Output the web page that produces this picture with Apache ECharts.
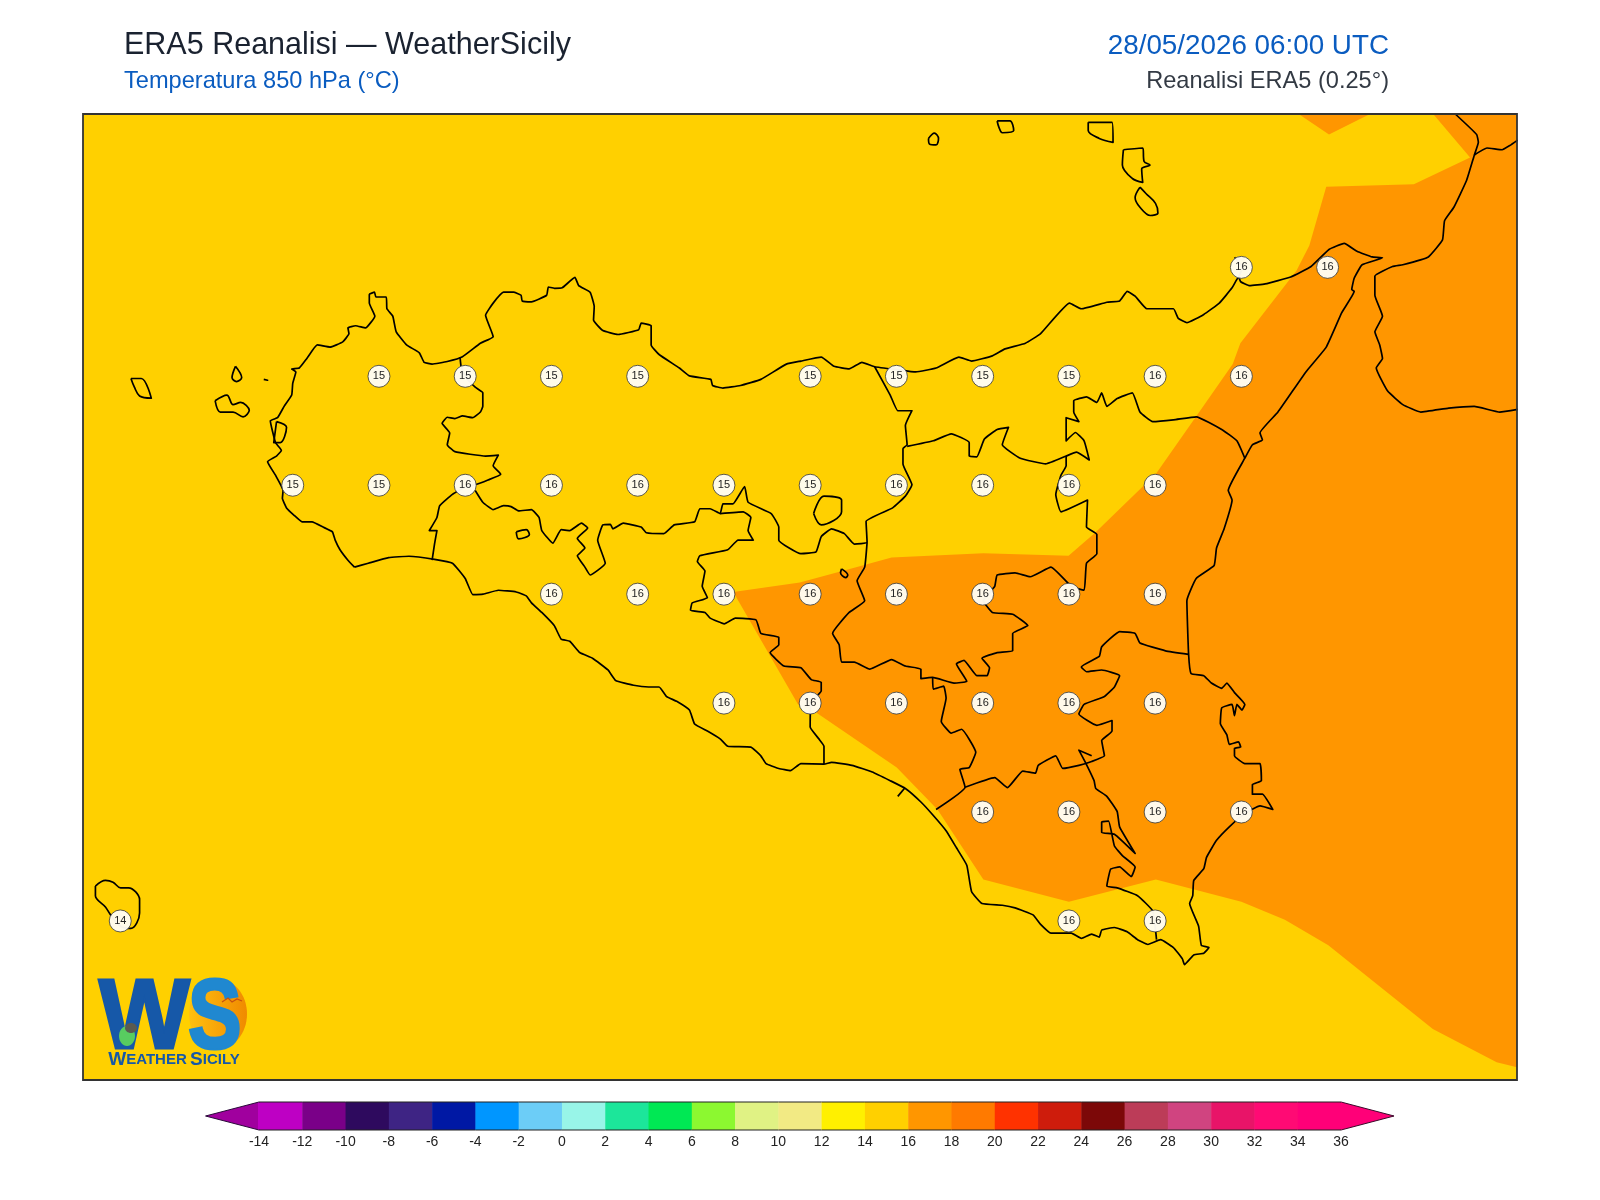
<!DOCTYPE html>
<html>
<head>
    <meta charset="utf-8">
    <title>ERA5 Reanalisi - WeatherSicily</title>
    <script src="https://cdn.jsdelivr.net/npm/echarts@6/dist/echarts.min.js"></script>
    <style>html, body { margin: 0; background: #fff; }</style>
</head>
<body>
    <div id="main" style="width: 1600px; height: 1200px;"></div>

    <script>
        // valori griglia (lon, lat, temperatura a 850 hPa)
        var labelLons = [15.25, 15.5,
            12.75, 13, 13.25, 13.5, 14, 14.25, 14.5, 14.75, 15, 15.25,
            12.5, 12.75, 13, 13.25, 13.5, 13.75, 14, 14.25, 14.5, 14.75, 15,
            13.25, 13.5, 13.75, 14, 14.25, 14.5, 14.75, 15,
            13.75, 14, 14.25, 14.5, 14.75, 15,
            14.5, 14.75, 15, 15.25,
            12, 14.75, 15];
        var labelLats = [38.25, 38.25,
            38, 38, 38, 38, 38, 38, 38, 38, 38, 38,
            37.75, 37.75, 37.75, 37.75, 37.75, 37.75, 37.75, 37.75, 37.75, 37.75, 37.75,
            37.5, 37.5, 37.5, 37.5, 37.5, 37.5, 37.5, 37.5,
            37.25, 37.25, 37.25, 37.25, 37.25, 37.25,
            37, 37, 37, 37,
            36.75, 36.75, 36.75];
        var labelVals = [16, 16,
            15, 15, 15, 15, 15, 15, 15, 15, 16, 16,
            15, 15, 16, 16, 16, 15, 15, 16, 16, 16, 16,
            16, 16, 16, 16, 16, 16, 16, 16,
            16, 16, 16, 16, 16, 16,
            16, 16, 16, 16,
            14, 16, 16];

        // estensione della mappa
        var lonMin = 11.892, lonMax = 16.049, latMin = 36.385, latMax = 38.602;

        // scala colori
        var bandEdges = [-14, -12, -10, -8, -6, -4, -2, 0, 2, 4, 6, 8, 10, 12, 14, 16, 18, 20, 22, 24, 26, 28, 30, 32, 34, 36];
        var bandColors = ['#BE00C4', '#7A0088', '#2E0A5E', '#3E2484', '#0018A4', '#0096FF', '#6CCDF7', '#98F5E8',
            '#1CE69A', '#00E854', '#8CF830', '#E0F284', '#F2EA84', '#FFF000', '#FFD000', '#FF9600', '#FF7A00',
            '#FF3200', '#CE1C0C', '#7C0808', '#BC3C58', '#D04480', '#E81468', '#FF0A74', '#FF0078'];

        // area 16-18 gradi
        var orangeMain = [[15.806,38.602],[15.913,38.502],[15.75,38.441],[15.496,38.435],[15.447,38.3],[15.41,38.243],[15.247,38.076],[15.225,38.028],[15.136,37.927],[15.003,37.777],[14.826,37.641],[14.749,37.588],[14.502,37.594],[14.236,37.584],[14.133,37.562],[13.97,37.527],[13.777,37.505],[13.965,37.247],[14.014,37.23],[14.251,37.102],[14.369,37.006],[14.502,36.845],[14.75,36.794],[15.002,36.845],[15.25,36.794],[15.376,36.753],[15.502,36.694],[15.805,36.502],[15.99,36.426],[16.051,36.414],[16.051,38.602]];
        var orangeTop = [[15.416,38.602],[15.504,38.555],[15.623,38.602]];

        // coste e confini
        var coastSicily = [[12.679,37.562],[12.66,37.578],[12.637,37.602],[12.623,37.624],[12.615,37.643],[12.588,37.654],[12.556,37.666],[12.527,37.666],[12.504,37.681],[12.482,37.698],[12.47,37.72],[12.472,37.738],[12.45,37.773],[12.427,37.804],[12.453,37.817],[12.467,37.83],[12.45,37.848],[12.435,37.898],[12.456,37.905],[12.475,37.931],[12.497,37.957],[12.5,37.984],[12.509,38.01],[12.497,38.017],[12.519,38.019],[12.541,38.041],[12.571,38.072],[12.608,38.067],[12.645,38.079],[12.663,38.098],[12.66,38.111],[12.682,38.116],[12.711,38.111],[12.738,38.138],[12.722,38.168],[12.722,38.188],[12.737,38.193],[12.741,38.182],[12.771,38.182],[12.773,38.155],[12.79,38.138],[12.8,38.102],[12.83,38.072],[12.867,38.054],[12.881,38.032],[12.904,38.028],[12.948,38.034],[12.992,38.045],[13.044,38.076],[13.081,38.091],[13.059,38.14],[13.081,38.168],[13.111,38.193],[13.14,38.193],[13.162,38.186],[13.165,38.173],[13.192,38.171],[13.236,38.186],[13.241,38.205],[13.259,38.202],[13.281,38.203],[13.318,38.227],[13.329,38.208],[13.362,38.193],[13.374,38.16],[13.372,38.129],[13.399,38.105],[13.443,38.096],[13.503,38.107],[13.51,38.122],[13.539,38.116],[13.539,38.072],[13.562,38.05],[13.621,38.019],[13.65,38.001],[13.712,37.993],[13.717,37.979],[13.747,37.973],[13.798,37.979],[13.857,37.993],[13.931,38.028],[13.973,38.035],[14.032,38.044],[14.069,38.023],[14.113,38.017],[14.15,38.032],[14.187,38.022],[14.254,38.015],[14.306,38.01],[14.365,38.019],[14.431,38.044],[14.468,38.035],[14.528,38.047],[14.565,38.063],[14.624,38.076],[14.668,38.098],[14.752,38.168],[14.786,38.155],[14.86,38.17],[14.897,38.173],[14.919,38.195],[14.942,38.184],[14.976,38.155],[15.053,38.155],[15.067,38.133],[15.092,38.123],[15.141,38.142],[15.186,38.168],[15.223,38.203],[15.242,38.228],[15.248,38.217],[15.274,38.208],[15.319,38.212],[15.393,38.228],[15.452,38.252],[15.504,38.291],[15.548,38.305],[15.585,38.287],[15.629,38.274],[15.659,38.272],[15.6,38.256],[15.577,38.225],[15.57,38.199],[15.577,38.195],[15.541,38.146],[15.496,38.067],[15.437,38.01],[15.356,37.918],[15.304,37.87],[15.311,37.854],[15.282,37.843],[15.26,37.812],[15.212,37.738],[15.223,37.716],[15.2,37.65],[15.178,37.606],[15.171,37.566],[15.119,37.536],[15.092,37.485],[15.097,37.362],[15.104,37.318],[15.141,37.313],[15.163,37.296],[15.193,37.284],[15.208,37.296],[15.23,37.274],[15.26,37.247],[15.252,37.234],[15.237,37.247],[15.23,37.221],[15.223,37.247],[15.193,37.239],[15.189,37.203],[15.208,37.177],[15.215,37.155],[15.242,37.161],[15.248,37.149],[15.23,37.146],[15.23,37.129],[15.26,37.111],[15.304,37.111],[15.308,37.072],[15.282,37.063],[15.282,37.041],[15.311,37.041],[15.341,37.006],[15.304,37.014],[15.26,36.997],[15.215,36.966],[15.178,36.935],[15.149,36.896],[15.141,36.87],[15.112,36.843],[15.109,36.808],[15.1,36.79],[15.126,36.738],[15.134,36.694],[15.156,36.689],[15.141,36.676],[15.112,36.672],[15.085,36.65],[15.079,36.663],[15.053,36.689],[15.016,36.707],[14.979,36.696],[14.949,36.707],[14.919,36.725],[14.882,36.735],[14.845,36.729],[14.838,36.713],[14.816,36.72],[14.786,36.71],[14.757,36.722],[14.698,36.722],[14.668,36.742],[14.646,36.764],[14.594,36.78],[14.557,36.786],[14.498,36.79],[14.468,36.817],[14.454,36.878],[14.424,36.918],[14.394,36.957],[14.357,36.992],[14.321,37.023],[14.276,37.054],[14.232,37.072],[14.18,37.092],[14.121,37.107],[14.062,37.114],[14.04,37.11],[13.973,37.111],[13.943,37.095],[13.909,37.1],[13.872,37.111],[13.857,37.129],[13.828,37.149],[13.761,37.151],[13.739,37.168],[13.702,37.186],[13.665,37.202],[13.65,37.234],[13.613,37.254],[13.584,37.265],[13.562,37.287],[13.532,37.287],[13.488,37.291],[13.436,37.302],[13.414,37.326],[13.369,37.353],[13.332,37.366],[13.303,37.392],[13.278,37.397],[13.258,37.428],[13.222,37.458],[13.192,37.48],[13.177,37.496],[13.148,37.505],[13.096,37.509],[13.052,37.5],[13.022,37.499],[13,37.536],[12.963,37.571],[12.911,37.58],[12.837,37.587],[12.778,37.584],[12.719,37.571],[12.679,37.562]];
        var capoMilazzo = [[15.242,38.228],[15.254,38.25],[15.23,38.273]];
        var borderTrapani = [[12.985,38.044],[12.988,38.023],[13.003,37.997],[13.029,37.975],[13.051,37.962],[13.051,37.931],[13.044,37.918],[13.022,37.905],[12.992,37.909],[12.97,37.903],[12.948,37.906],[12.933,37.892],[12.955,37.87],[12.948,37.843],[12.97,37.827],[13.059,37.817],[13.096,37.819],[13.081,37.795],[13.103,37.775],[13.066,37.762],[13.029,37.751],[13.003,37.747],[12.963,37.729],[12.926,37.703],[12.918,37.676],[12.896,37.646],[12.918,37.646],[12.911,37.615],[12.904,37.578]];
        var borderPalermoSouth = [[13.029,37.738],[13.051,37.711],[13.081,37.694],[13.111,37.703],[13.133,37.701],[13.155,37.691],[13.192,37.694],[13.214,37.676],[13.222,37.646],[13.254,37.617],[13.278,37.648],[13.303,37.646],[13.337,37.663],[13.355,37.652],[13.325,37.628],[13.347,37.606],[13.325,37.588],[13.347,37.562],[13.362,37.544],[13.406,37.571],[13.384,37.624],[13.399,37.659],[13.421,37.66],[13.428,37.65],[13.458,37.663],[13.51,37.654],[13.525,37.641],[13.576,37.639],[13.606,37.659],[13.665,37.666],[13.68,37.696],[13.71,37.696],[13.739,37.685],[13.747,37.707],[13.776,37.707],[13.81,37.747],[13.82,37.711],[13.887,37.685],[13.909,37.654],[13.909,37.624],[13.973,37.593],[14.017,37.597],[14.032,37.632],[14.062,37.65],[14.099,37.639],[14.128,37.615],[14.165,37.619],[14.162,37.667],[14.239,37.698],[14.276,37.725],[14.295,37.751],[14.269,37.799],[14.269,37.834],[14.281,37.843],[14.276,37.887],[14.295,37.921],[14.254,37.921],[14.232,37.957],[14.187,38.022]];
        var borderAgrigento = [[13.739,37.685],[13.806,37.689],[13.828,37.676],[13.82,37.646],[13.835,37.624],[13.791,37.624],[13.761,37.602],[13.68,37.588],[13.673,37.575],[13.695,37.553],[13.687,37.518],[13.702,37.492],[13.658,37.48],[13.653,37.463],[13.695,37.458],[13.71,37.445],[13.751,37.432],[13.783,37.445],[13.843,37.441],[13.857,37.41],[13.909,37.401],[13.909,37.384],[13.884,37.366],[13.924,37.335],[13.973,37.331],[14.003,37.304],[14.032,37.298],[14.032,37.278],[14.003,37.252],[14,37.195],[14.025,37.168],[14.04,37.151],[14.04,37.11]];
        var borderMessina = [[15.26,37.812],[15.237,37.852],[15.193,37.878],[15.119,37.907],[15.053,37.9],[14.993,37.896],[14.956,37.918],[14.934,37.962],[14.89,37.949],[14.86,37.931],[14.845,37.962],[14.831,37.94],[14.801,37.953],[14.764,37.944],[14.764,37.918],[14.779,37.896],[14.742,37.905],[14.742,37.852],[14.769,37.871],[14.794,37.852],[14.809,37.808],[14.772,37.826],[14.742,37.817],[14.683,37.799],[14.609,37.812],[14.557,37.843],[14.575,37.883],[14.542,37.878],[14.505,37.856],[14.483,37.815],[14.461,37.817],[14.461,37.848],[14.409,37.868],[14.357,37.852],[14.281,37.839]];
        var borderEnna = [[14.742,37.817],[14.742,37.795],[14.727,37.773],[14.712,37.729],[14.727,37.689],[14.804,37.716],[14.801,37.654],[14.831,37.637],[14.831,37.593],[14.801,37.571],[14.794,37.509],[14.757,37.518],[14.698,37.562],[14.638,37.54],[14.594,37.549],[14.542,37.544],[14.535,37.518],[14.502,37.485],[14.528,37.458],[14.587,37.454],[14.631,37.428],[14.587,37.41],[14.587,37.37],[14.542,37.366],[14.498,37.353],[14.52,37.331],[14.513,37.313],[14.483,37.313],[14.446,37.348],[14.424,37.34],[14.454,37.3],[14.417,37.296],[14.355,37.309],[14.321,37.306],[14.321,37.328],[14.276,37.335],[14.236,37.35],[14.173,37.328],[14.128,37.344],[14.091,37.344],[14.084,37.384],[14.065,37.41],[14.113,37.458],[14.158,37.485],[14.136,37.531],[14.158,37.562],[14.165,37.619]];
        var borderCaltanissetta = [[14.355,37.309],[14.357,37.282],[14.387,37.289],[14.394,37.261],[14.38,37.208],[14.409,37.181],[14.439,37.19],[14.48,37.137],[14.461,37.102],[14.434,37.098],[14.449,37.057],[14.365,37.006]];
        var borderCatania = [[14.449,37.057],[14.535,37.079],[14.572,37.056],[14.616,37.094],[14.653,37.089],[14.661,37.107],[14.712,37.129],[14.732,37.1],[14.779,37.107],[14.816,37.116],[14.853,37.129],[14.845,37.164],[14.875,37.186],[14.875,37.21],[14.831,37.199],[14.779,37.225],[14.794,37.247],[14.853,37.265],[14.882,37.287],[14.897,37.313],[14.845,37.326],[14.801,37.322],[14.786,37.333],[14.838,37.357],[14.845,37.379],[14.897,37.414],[14.942,37.41],[14.956,37.388],[15.03,37.37],[15.097,37.362]];
        var borderRagusa = [[14.816,37.129],[14.779,37.142],[14.801,37.109],[14.823,37.072],[14.828,37.054],[14.86,37.036],[14.89,37.001],[14.897,36.966],[14.942,36.905],[14.882,36.949],[14.845,36.953],[14.845,36.977],[14.865,36.979],[14.882,36.922],[14.905,36.9],[14.942,36.874],[14.931,36.852],[14.897,36.874],[14.871,36.869],[14.86,36.83],[14.89,36.826],[14.949,36.808],[14.993,36.773],[15.004,36.707]];
        var tickGela = [[14.273,37.054],[14.254,37.036]];
        var coastCalabria = [[15.87,38.602],[15.932,38.555],[15.937,38.537],[15.925,38.507],[15.903,38.45],[15.866,38.388],[15.839,38.357],[15.833,38.313],[15.792,38.274],[15.718,38.256],[15.688,38.252],[15.637,38.23],[15.637,38.186],[15.659,38.138],[15.637,38.102],[15.651,38.072],[15.659,38.041],[15.641,38.019],[15.674,37.966],[15.718,37.935],[15.77,37.918],[15.851,37.927],[15.925,37.931],[15.999,37.918],[16.051,37.924]];
        var borderCalabria = [[15.925,38.508],[15.962,38.524],[16.006,38.52],[16.029,38.53],[16.051,38.542]];

        // isole ed enclavi (anelli chiusi)
        var islandUstica = [[14.343,38.546],[14.36,38.558],[14.372,38.546],[14.365,38.531],[14.346,38.533]];
        var islandAlicudi = [[14.542,38.586],[14.579,38.586],[14.59,38.564],[14.557,38.559],[14.547,38.572]];
        var islandFilicudi = [[14.806,38.583],[14.875,38.583],[14.878,38.537],[14.838,38.546],[14.806,38.564]];
        var islandLipari = [[14.908,38.52],[14.964,38.524],[14.968,38.493],[14.985,38.485],[14.961,38.476],[14.964,38.445],[14.934,38.454],[14.905,38.485]];
        var islandVulcano = [[14.956,38.434],[14.974,38.419],[15.001,38.397],[15.008,38.375],[14.986,38.369],[14.956,38.388],[14.942,38.41]];
        var islandMarettimo = [[12.031,37.995],[12.061,37.995],[12.09,37.95],[12.056,37.955],[12.041,37.975]];
        var islandFavignana = [[12.275,37.944],[12.309,37.957],[12.327,37.935],[12.349,37.94],[12.374,37.922],[12.356,37.907],[12.327,37.918],[12.29,37.918]];
        var islandLevanzo = [[12.334,38.023],[12.352,37.997],[12.337,37.988],[12.324,37.997]];
        var islandFormica = [[12.416,37.993],[12.427,37.991]];
        var islandStagnone = [[12.453,37.896],[12.482,37.883],[12.464,37.848],[12.445,37.848]];
        var islandPantelleria = [[11.928,36.83],[11.957,36.843],[11.979,36.839],[12.001,36.826],[12.024,36.826],[12.056,36.799],[12.056,36.768],[12.031,36.733],[12.001,36.738],[11.972,36.764],[11.957,36.782],[11.928,36.808]];
        var enclaveA = [[14.01,37.685],[14.04,37.725],[14.091,37.716],[14.091,37.689],[14.032,37.659]];
        var enclaveB = [[14.091,37.558],[14.109,37.544],[14.103,37.538],[14.088,37.549]];
        var enclaveC = [[13.148,37.643],[13.177,37.648],[13.186,37.637],[13.155,37.627]];

        var openPaths = [coastSicily, capoMilazzo, borderTrapani, borderPalermoSouth, borderAgrigento, borderMessina,
            borderEnna, borderCaltanissetta, borderCatania, borderRagusa, tickGela, coastCalabria, borderCalabria];
        var closedPaths = [islandUstica, islandAlicudi, islandFilicudi, islandLipari, islandVulcano, islandMarettimo,
            islandFavignana, islandLevanzo, islandFormica, islandStagnone, islandPantelleria, enclaveA, enclaveB, enclaveC];

        var myChart = echarts.init(document.getElementById('main'));
        var fontName = '"Liberation Sans", Arial, sans-serif';

        function outlineSeries(points, smooth) {
            return {
                type: 'line',
                xAxisIndex: 0,
                yAxisIndex: 0,
                data: points,
                symbol: 'none',
                smooth: smooth,
                silent: true,
                animation: false,
                z: 3,
                lineStyle: { color: '#000', width: 1.7, join: 'round' }
            };
        }

        var series = [];

        // campi colorati
        var orangeAreas = [orangeMain, orangeTop];
        series.push({
            type: 'custom',
            xAxisIndex: 0,
            yAxisIndex: 0,
            data: [[0, 0], [1, 0]],
            animation: false,
            silent: true,
            clip: true,
            z: 2,
            renderItem: function (params, api) {
                return {
                    type: 'polygon',
                    shape: { points: orangeAreas[params.dataIndex].map(function (p) { return api.coord(p); }) },
                    style: { fill: '#FF9600' }
                };
            }
        });

        openPaths.forEach(function (p) { series.push(outlineSeries(p, 0.12)); });
        closedPaths.forEach(function (p) { series.push(outlineSeries(p.concat([p[0]]), 0.35)); });

        // etichette sui punti griglia
        series.push({
            type: 'scatter',
            xAxisIndex: 0,
            yAxisIndex: 0,
            data: labelLons.map(function (lon, i) { return [lon, labelLats[i], labelVals[i]]; }),
            symbol: 'circle',
            symbolSize: 22,
            animation: false,
            silent: true,
            z: 5,
            itemStyle: { color: 'rgba(255,252,242,0.97)', borderColor: '#333', borderWidth: 0.8, opacity: 1 },
            label: {
                show: true,
                position: 'inside',
                color: '#222',
                fontFamily: fontName,
                fontSize: 11,
                formatter: function (p) { return p.value[2]; }
            }
        });

        // barra colori
        var extLow = -16.47, extHigh = 38.45;
        series.push({
            type: 'custom',
            xAxisIndex: 1,
            yAxisIndex: 1,
            data: bandColors.map(function (c, i) { return [bandEdges[i], 0]; }),
            animation: false,
            silent: true,
            clip: false,
            renderItem: function (params, api) {
                var i = params.dataIndex;
                var a = api.coord([bandEdges[i], 1]);
                var b = api.coord([bandEdges[i + 1], 0]);
                var children = [{
                    type: 'rect',
                    shape: { x: a[0], y: a[1], width: b[0] - a[0] + 0.5, height: b[1] - a[1] },
                    style: { fill: bandColors[i] }
                }];
                if (i === 0) {
                    children.push({
                        type: 'polygon',
                        shape: { points: [api.coord([-14, 1]), api.coord([extLow, 0.5]), api.coord([-14, 0])] },
                        style: { fill: '#A0009E', stroke: '#2a0a3a', lineWidth: 1 }
                    });
                    children.push({
                        type: 'rect',
                        shape: { x: a[0] - 1, y: a[1] + 0.5, width: 2, height: b[1] - a[1] - 1 },
                        style: { fill: bandColors[0] }
                    });
                }
                if (i === bandColors.length - 1) {
                    children.push({
                        type: 'polygon',
                        shape: { points: [api.coord([36, 1]), api.coord([extHigh, 0.5]), api.coord([36, 0])] },
                        style: { fill: '#FF0078', stroke: '#3a0a2a', lineWidth: 1 }
                    });
                    children.push({
                        type: 'rect',
                        shape: { x: b[0] - 1, y: a[1] + 0.5, width: 2, height: b[1] - a[1] - 1 },
                        style: { fill: bandColors[i] }
                    });
                }
                // bordo sopra e sotto
                children.push({ type: 'line', shape: { x1: a[0], y1: a[1], x2: b[0], y2: a[1] }, style: { stroke: '#222', lineWidth: 1.2 } });
                children.push({ type: 'line', shape: { x1: a[0], y1: b[1], x2: b[0], y2: b[1] }, style: { stroke: '#222', lineWidth: 1.2 } });
                return { type: 'group', children: children };
            }
        });

        var option = {
            animation: false,
            backgroundColor: '#fff',
            title: [
                { text: 'ERA5 Reanalisi — WeatherSicily', left: 124, top: 30, padding: 0, textStyle: { fontFamily: fontName, fontSize: 30.5, fontWeight: 'normal', color: '#1a2230' } },
                { text: 'Temperatura 850 hPa (°C)', left: 124, top: 69, padding: 0, textStyle: { fontFamily: fontName, fontSize: 23.6, fontWeight: 'normal', color: '#0a5cc0' } },
                { text: '28/05/2026 06:00 UTC', right: 211, top: 32, padding: 0, textStyle: { fontFamily: fontName, fontSize: 27.8, fontWeight: 'normal', color: '#0a5cc0' } },
                { text: 'Reanalisi ERA5 (0.25°)', right: 211, top: 69, padding: 0, textStyle: { fontFamily: fontName, fontSize: 23.6, fontWeight: 'normal', color: '#333a44' } }
            ],
            grid: [
                { left: 83, top: 114, width: 1434, height: 966, show: true, backgroundColor: '#FFD000', borderWidth: 0 },
                { left: 259, top: 1102, width: 1082, height: 28, show: false }
            ],
            xAxis: [
                { type: 'value', gridIndex: 0, min: lonMin, max: lonMax, show: false },
                {
                    type: 'value', gridIndex: 1, min: -14, max: 36, interval: 2,
                    axisLine: { show: false }, axisTick: { show: false }, splitLine: { show: false },
                    axisLabel: { color: '#222', fontFamily: fontName, fontSize: 14, margin: 5 }
                }
            ],
            yAxis: [
                { type: 'value', gridIndex: 0, min: latMin, max: latMax, show: false },
                { type: 'value', gridIndex: 1, min: 0, max: 1, show: false }
            ],
            series: series,
            graphic: [
                // cornice della mappa
                { type: 'rect', z: 50, silent: true, shape: { x: 83, y: 114, width: 1434, height: 966 }, style: { fill: 'transparent', stroke: '#333', lineWidth: 1.8 } },
                // logo
                { type: 'ellipse', z: 51, silent: true, shape: { cx: 218, cy: 1014, rx: 29, ry: 35 }, style: { fill: new echarts.graphic.LinearGradient(0, 0, 1, 0, [{ offset: 0, color: '#FFC010' }, { offset: 1, color: '#F08A00' }]) } },
                { type: 'text', z: 52, silent: true, x: 99, y: 1021, scaleX: 0.98, style: { text: 'W', font: 'bold 98px ' + fontName, fill: '#1658A8', stroke: '#1658A8', lineWidth: 3, textAlign: 'left', textVerticalAlign: 'middle' } },
                { type: 'text', z: 52, silent: true, x: 188, y: 1021, scaleX: 0.82, style: { text: 'S', font: 'bold 98px ' + fontName, fill: '#2088D0', stroke: '#2088D0', lineWidth: 3, textAlign: 'left', textVerticalAlign: 'middle' } },
                { type: 'ellipse', z: 53, silent: true, shape: { cx: 127, cy: 1036, rx: 8, ry: 10 }, style: { fill: '#58CC60' } },
                { type: 'ellipse', z: 53, silent: true, shape: { cx: 131, cy: 1028, rx: 6, ry: 5 }, style: { fill: '#5A5A50' } },
                { type: 'polyline', z: 53, silent: true, shape: { points: [[222, 1002], [228, 998], [232, 1002], [237, 999], [242, 1001]] }, style: { stroke: '#C85010', fill: 'none', lineWidth: 1.2 } },
                {
                    type: 'text', z: 52, silent: true, x: 174, y: 1060,
                    style: {
                        text: '{a|W}{b|EATHER} {a|S}{b|ICILY}',
                        textAlign: 'center',
                        textVerticalAlign: 'middle',
                        rich: {
                            a: { font: 'bold 19px ' + fontName, fill: '#1658A8' },
                            b: { font: 'bold 15px ' + fontName, fill: '#1658A8' }
                        }
                    }
                }
            ]
        };

        myChart.setOption(option);
    </script>
</body>
</html>
